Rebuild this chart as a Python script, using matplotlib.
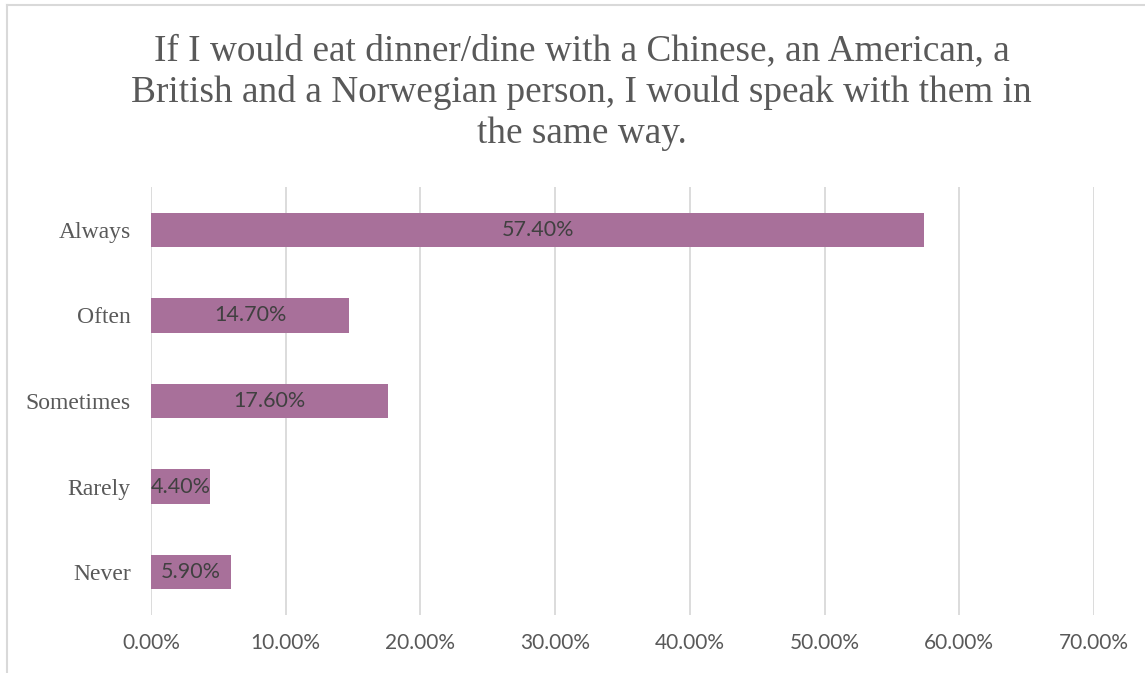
import matplotlib.pyplot as plt
from matplotlib.lines import Line2D
import numpy as np

categories = ["Always", "Often", "Sometimes", "Rarely", "Never"]
values = [57.40, 14.70, 17.60, 4.40, 5.90]
ticks = [0, 10, 20, 30, 40, 50, 60, 70]
title = ("If I would eat dinner/dine with a Chinese, an American, a\n"
         "British and a Norwegian person, I would speak with them in\n"
         "the same way.")

fig = plt.figure(figsize=(11.45, 6.73), dpi=100)
ax = fig.add_axes([0.1319, 0.0862, 0.8236, 0.6359])

y = np.arange(len(categories))
bars = ax.barh(y, values, height=0.4, color="#a8709a")
ax.bar_label(bars, labels=["%.2f%%" % v for v in values], label_type="center",
             fontsize=15.5, family="Lato", color="#404040")

ax.set_xlim(0, 70)
ax.set_ylim(len(categories) - 0.5, -0.5)
ax.set_xticks(ticks)
ax.set_xticklabels(["%.2f%%" % t for t in ticks], family="Lato", fontsize=15, color="#595959")
ax.set_yticks(y)
ax.set_yticklabels(categories, family="Liberation Serif", fontsize=17, color="#595959")
ax.tick_params(length=0)
ax.tick_params(axis="y", pad=14.5)
ax.tick_params(axis="x", pad=13)
ax.grid(axis="x", color="#d9d9d9", linewidth=1.3)
ax.set_axisbelow(True)
for s in ax.spines.values():
    s.set_visible(False)

fig.text(0.508, 0.863, title, ha="center", va="center", family="Liberation Serif",
         fontsize=26.8, color="#595959", linespacing=1.26)

# chart-area border (top and left edges only in view)
fig.add_artist(Line2D([7 / 1145, 7 / 1145], [0, 1 - 5 / 673], color="#d9d9d9", lw=1.5,
                      transform=fig.transFigure))
fig.add_artist(Line2D([7 / 1145, 1], [1 - 5 / 673, 1 - 5 / 673], color="#d9d9d9", lw=1.5,
                      transform=fig.transFigure))

fig.savefig("out.png", dpi=100)
